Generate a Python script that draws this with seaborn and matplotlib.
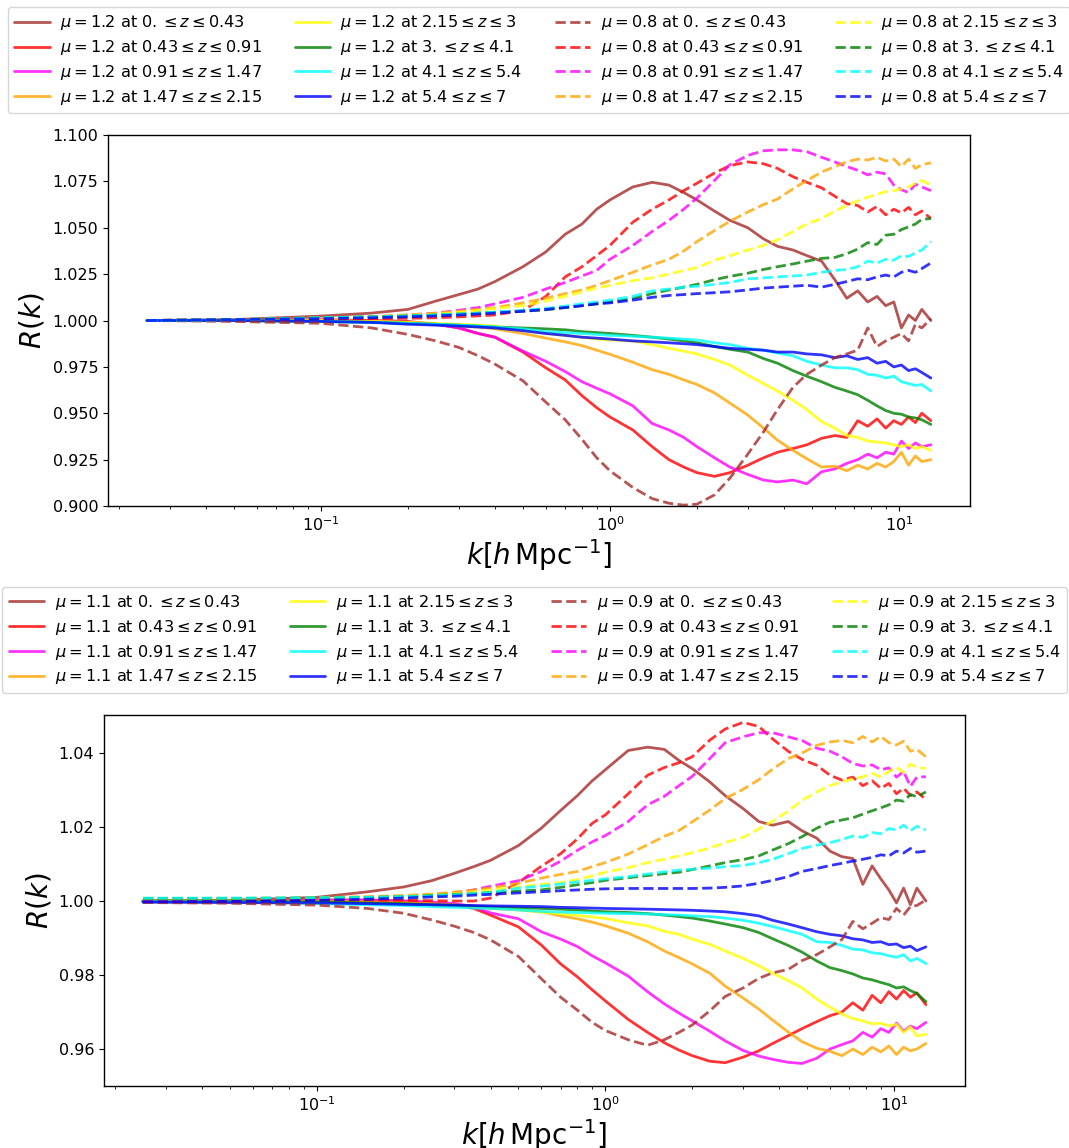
import matplotlib
matplotlib.use("Agg")
import matplotlib.pyplot as plt
import seaborn as sns
import pandas as pd

sns.set_style("ticks")
plt.rcParams.update({
    "font.family": ["DejaVu Sans"],
    "mathtext.fontset": "dejavusans",
    "axes.edgecolor": "black",
    "axes.linewidth": 1.0,
    "xtick.color": "black", "ytick.color": "black",
    "text.color": "black", "axes.labelcolor": "black",
    "xtick.major.size": 3.5, "ytick.major.size": 3.5,
    "xtick.minor.size": 2.0, "ytick.minor.size": 2.0,
    "xtick.major.width": 0.8, "ytick.major.width": 0.8,
    "xtick.minor.width": 0.6, "ytick.minor.width": 0.6,
    "xtick.direction": "out", "ytick.direction": "out",
})

# ---------------- data ----------------
K = [0.025, 0.05, 0.1, 0.15, 0.2, 0.25, 0.3, 0.35, 0.4, 0.5, 0.6, 0.7, 0.8, 0.9, 1.0,
     1.2, 1.4, 1.6, 1.8, 2.0, 2.3, 2.6, 3.0, 3.4, 3.8, 4.3, 4.8, 5.4, 6.0, 6.6,
     7.2, 7.8, 8.4, 9.0, 9.6, 10.2, 10.8, 11.4, 12.0, 12.9]

Z_BINS = [r"0. \leq z \leq 0.43", r"0.43 \leq z \leq 0.91", r"0.91 \leq z \leq 1.47",
          r"1.47 \leq z \leq 2.15", r"2.15 \leq z \leq 3", r"3. \leq z \leq 4.1",
          r"4.1 \leq z \leq 5.4", r"5.4 \leq z \leq 7"]
COLORS = ["brown", "red", "magenta", "orange", "yellow", "green", "cyan", "blue"]
MU_TOP = ["1.2", "0.8"]
MU_BOT = ["1.1", "0.9"]

# top panel, mu = 1.2 (solid)
mu12_b1 = [1.000, 1.0005, 1.0024, 1.004, 1.006, 1.0105, 1.014, 1.017, 1.021, 1.029, 1.037, 1.0465, 1.052, 1.060, 1.065, 1.072, 1.0745, 1.073, 1.069, 1.065, 1.059, 1.054, 1.050, 1.044, 1.040, 1.038, 1.035, 1.032, 1.022, 1.012, 1.016, 1.010, 1.013, 1.008, 1.010, 0.996, 1.003, 1.000, 1.006, 1.000]
mu12_b2 = [1.000, 1.000, 1.0005, 1.000, 0.9995, 0.998, 0.996, 0.993, 0.991, 0.983, 0.9745, 0.968, 0.9595, 0.953, 0.948, 0.941, 0.932, 0.925, 0.921, 0.918, 0.916, 0.918, 0.922, 0.926, 0.929, 0.931, 0.933, 0.9365, 0.938, 0.937, 0.946, 0.943, 0.947, 0.942, 0.946, 0.944, 0.948, 0.945, 0.950, 0.946]
mu12_b3 = [1.000, 1.000, 1.000, 0.9995, 0.999, 0.998, 0.996, 0.993, 0.991, 0.9835, 0.978, 0.9725, 0.967, 0.9635, 0.9605, 0.954, 0.9445, 0.941, 0.937, 0.932, 0.926, 0.921, 0.917, 0.914, 0.913, 0.914, 0.912, 0.9185, 0.920, 0.923, 0.925, 0.928, 0.926, 0.929, 0.928, 0.935, 0.931, 0.934, 0.932, 0.933]
mu12_b4 = [1.000, 1.000, 1.000, 0.9995, 0.999, 0.998, 0.997, 0.9965, 0.9955, 0.993, 0.9905, 0.9885, 0.9865, 0.984, 0.9818, 0.9775, 0.9735, 0.971, 0.968, 0.9655, 0.961, 0.9555, 0.949, 0.942, 0.9355, 0.930, 0.9255, 0.921, 0.9215, 0.919, 0.922, 0.920, 0.923, 0.921, 0.924, 0.929, 0.922, 0.927, 0.924, 0.925]
mu12_b5 = [1.000, 1.000, 1.000, 0.9995, 0.999, 0.9985, 0.998, 0.9975, 0.997, 0.995, 0.993, 0.992, 0.991, 0.990, 0.9895, 0.989, 0.987, 0.985, 0.9835, 0.982, 0.979, 0.976, 0.9705, 0.966, 0.962, 0.957, 0.952, 0.9455, 0.942, 0.938, 0.937, 0.935, 0.9345, 0.934, 0.933, 0.932, 0.933, 0.931, 0.932, 0.930]
mu12_b6 = [1.000, 1.000, 0.9995, 0.999, 0.9985, 0.998, 0.9975, 0.997, 0.9965, 0.996, 0.9955, 0.995, 0.994, 0.9935, 0.993, 0.992, 0.991, 0.990, 0.989, 0.988, 0.986, 0.9845, 0.983, 0.9795, 0.977, 0.973, 0.970, 0.967, 0.964, 0.962, 0.960, 0.957, 0.954, 0.9515, 0.950, 0.9495, 0.948, 0.9475, 0.9465, 0.944]
mu12_b7 = [1.000, 1.000, 0.9995, 0.999, 0.9985, 0.998, 0.9975, 0.997, 0.9965, 0.9955, 0.994, 0.9935, 0.993, 0.9925, 0.992, 0.9915, 0.991, 0.9905, 0.990, 0.9895, 0.988, 0.987, 0.985, 0.984, 0.9825, 0.981, 0.978, 0.976, 0.9745, 0.9745, 0.9735, 0.971, 0.9705, 0.969, 0.970, 0.967, 0.966, 0.965, 0.9655, 0.962]
mu12_b8 = [1.000, 1.000, 0.9995, 0.999, 0.998, 0.9975, 0.997, 0.9965, 0.996, 0.9945, 0.993, 0.992, 0.991, 0.9905, 0.990, 0.989, 0.9885, 0.988, 0.9875, 0.987, 0.986, 0.985, 0.9845, 0.984, 0.983, 0.983, 0.982, 0.9815, 0.980, 0.981, 0.979, 0.980, 0.977, 0.978, 0.975, 0.976, 0.973, 0.974, 0.972, 0.969]

# top panel, mu = 0.8 (dashed)
mu08_b1 = [1.000, 0.9995, 0.9985, 0.996, 0.9925, 0.989, 0.9855, 0.981, 0.9765, 0.9675, 0.956, 0.9465, 0.936, 0.926, 0.919, 0.910, 0.904, 0.9015, 0.9005, 0.901, 0.906, 0.915, 0.928, 0.940, 0.952, 0.964, 0.971, 0.976, 0.980, 0.982, 0.984, 0.996, 0.986, 0.989, 0.991, 0.993, 0.989, 0.998, 0.996, 1.001]
mu08_b2 = [1.000, 1.0005, 1.001, 1.001, 1.0012, 1.0015, 1.002, 1.0025, 1.003, 1.0055, 1.013, 1.0235, 1.029, 1.035, 1.0405, 1.053, 1.060, 1.065, 1.070, 1.074, 1.0795, 1.0835, 1.0855, 1.0845, 1.082, 1.0775, 1.0745, 1.0715, 1.067, 1.063, 1.062, 1.0585, 1.0615, 1.057, 1.060, 1.058, 1.061, 1.057, 1.059, 1.055]
mu08_b3 = [1.000, 1.0005, 1.0015, 1.002, 1.003, 1.004, 1.0055, 1.007, 1.009, 1.0125, 1.017, 1.0205, 1.024, 1.027, 1.033, 1.0405, 1.048, 1.054, 1.060, 1.066, 1.0755, 1.084, 1.089, 1.0915, 1.092, 1.092, 1.091, 1.088, 1.0855, 1.083, 1.081, 1.0785, 1.080, 1.079, 1.073, 1.0705, 1.069, 1.0735, 1.072, 1.070]
mu08_b4 = [1.000, 1.0005, 1.0015, 1.002, 1.003, 1.004, 1.005, 1.006, 1.007, 1.0095, 1.012, 1.0145, 1.0165, 1.019, 1.0215, 1.026, 1.030, 1.033, 1.0375, 1.0425, 1.0485, 1.0535, 1.0585, 1.0625, 1.0655, 1.071, 1.0755, 1.080, 1.083, 1.0855, 1.087, 1.0865, 1.088, 1.086, 1.087, 1.083, 1.087, 1.082, 1.084, 1.085]
mu08_b5 = [1.000, 1.0005, 1.0015, 1.002, 1.0028, 1.0035, 1.0045, 1.0055, 1.0065, 1.008, 1.0105, 1.013, 1.0155, 1.0175, 1.019, 1.0215, 1.023, 1.025, 1.027, 1.0285, 1.0325, 1.035, 1.038, 1.0405, 1.0435, 1.048, 1.052, 1.055, 1.059, 1.062, 1.0645, 1.0665, 1.068, 1.0695, 1.070, 1.071, 1.072, 1.074, 1.0755, 1.073]
mu08_b6 = [1.000, 1.0005, 1.0015, 1.002, 1.0025, 1.003, 1.0035, 1.004, 1.0045, 1.005, 1.0058, 1.007, 1.008, 1.009, 1.010, 1.012, 1.0145, 1.0165, 1.018, 1.0195, 1.022, 1.0238, 1.0255, 1.0275, 1.029, 1.0305, 1.032, 1.0335, 1.034, 1.036, 1.0385, 1.042, 1.041, 1.046, 1.0465, 1.049, 1.0505, 1.052, 1.0545, 1.055]
mu08_b7 = [1.000, 1.0005, 1.0015, 1.002, 1.0025, 1.003, 1.0035, 1.004, 1.0045, 1.0055, 1.0065, 1.0078, 1.009, 1.010, 1.011, 1.013, 1.016, 1.017, 1.018, 1.0185, 1.0195, 1.0205, 1.0225, 1.023, 1.0235, 1.024, 1.0245, 1.026, 1.027, 1.0275, 1.029, 1.032, 1.031, 1.033, 1.0325, 1.035, 1.0345, 1.0365, 1.038, 1.0425]
mu08_b8 = [1.000, 1.0005, 1.001, 1.0015, 1.002, 1.0025, 1.003, 1.0035, 1.004, 1.005, 1.006, 1.007, 1.008, 1.009, 1.0095, 1.011, 1.0125, 1.0135, 1.014, 1.0145, 1.015, 1.0155, 1.0165, 1.0175, 1.018, 1.0185, 1.019, 1.018, 1.0195, 1.021, 1.0225, 1.022, 1.0235, 1.0245, 1.0235, 1.026, 1.027, 1.026, 1.028, 1.031]

# bottom panel, mu = 1.1 (solid)
mu11_b1 = [1.000, 1.0002, 1.001, 1.0025, 1.0038, 1.0055, 1.0075, 1.0093, 1.011, 1.015, 1.0197, 1.0245, 1.0285, 1.0325, 1.0355, 1.0407, 1.0416, 1.041, 1.038, 1.0358, 1.0322, 1.0285, 1.025, 1.0215, 1.0205, 1.0215, 1.019, 1.017, 1.0135, 1.012, 1.0115, 1.0045, 1.0095, 1.006, 1.003, 0.9995, 1.0035, 0.999, 1.0035, 1.000]
mu11_b2 = [1.000, 1.000, 1.0003, 1.0003, 1.000, 0.9995, 0.999, 0.998, 0.9962, 0.993, 0.9881, 0.983, 0.9795, 0.976, 0.973, 0.968, 0.9645, 0.9617, 0.9597, 0.9582, 0.9567, 0.9563, 0.9578, 0.9595, 0.9615, 0.9636, 0.9655, 0.9674, 0.969, 0.970, 0.9725, 0.9705, 0.9745, 0.9725, 0.9755, 0.9735, 0.9758, 0.974, 0.9752, 0.972]
mu11_b3 = [1.000, 1.000, 1.0002, 1.0002, 1.000, 0.9997, 0.9993, 0.9985, 0.9968, 0.9952, 0.9917, 0.9897, 0.9877, 0.9852, 0.9833, 0.9797, 0.9755, 0.9722, 0.9697, 0.9676, 0.9648, 0.9622, 0.9596, 0.9581, 0.9572, 0.9564, 0.9561, 0.9575, 0.960, 0.9612, 0.9622, 0.9645, 0.9632, 0.9655, 0.9645, 0.967, 0.9648, 0.9662, 0.9655, 0.9672]
mu11_b4 = [1.000, 1.000, 1.000, 0.9998, 0.9996, 0.9993, 0.999, 0.9985, 0.998, 0.9976, 0.9971, 0.996, 0.9952, 0.9943, 0.9933, 0.9913, 0.989, 0.9865, 0.9847, 0.983, 0.9805, 0.977, 0.9738, 0.9708, 0.9678, 0.9646, 0.962, 0.9602, 0.9594, 0.9582, 0.960, 0.9585, 0.9605, 0.9592, 0.9608, 0.9585, 0.9605, 0.9595, 0.960, 0.9615]
mu11_b5 = [1.000, 1.000, 0.9998, 0.9995, 0.9992, 0.999, 0.9988, 0.9985, 0.9982, 0.9977, 0.997, 0.9966, 0.9961, 0.9957, 0.9953, 0.9941, 0.9933, 0.9918, 0.991, 0.9897, 0.9883, 0.9865, 0.9845, 0.9825, 0.9805, 0.9785, 0.9765, 0.9735, 0.9713, 0.9695, 0.9682, 0.9676, 0.9668, 0.967, 0.9662, 0.9667, 0.9645, 0.966, 0.9635, 0.964]
mu11_b6 = [1.000, 1.000, 0.9998, 0.9995, 0.9993, 0.999, 0.9988, 0.9986, 0.9984, 0.9982, 0.998, 0.9978, 0.9976, 0.9973, 0.9971, 0.9969, 0.9966, 0.9962, 0.9958, 0.9954, 0.9946, 0.9938, 0.9928, 0.9915, 0.9898, 0.988, 0.9862, 0.9838, 0.982, 0.9812, 0.9803, 0.9792, 0.9787, 0.978, 0.9774, 0.9765, 0.9768, 0.9758, 0.975, 0.9728]
mu11_b7 = [0.9998, 0.9997, 0.9993, 0.999, 0.9988, 0.9985, 0.9983, 0.9981, 0.998, 0.9976, 0.9972, 0.997, 0.9969, 0.9968, 0.9967, 0.9966, 0.9965, 0.9963, 0.9962, 0.996, 0.9958, 0.9954, 0.9948, 0.994, 0.9931, 0.992, 0.991, 0.989, 0.9888, 0.988, 0.987, 0.9868, 0.986, 0.9858, 0.9852, 0.9848, 0.9855, 0.9838, 0.9845, 0.9831]
mu11_b8 = [0.9997, 0.9996, 0.9995, 0.9993, 0.9991, 0.999, 0.9989, 0.9988, 0.9987, 0.9986, 0.9985, 0.9983, 0.9982, 0.9981, 0.998, 0.9979, 0.9978, 0.9977, 0.9976, 0.9975, 0.9973, 0.9971, 0.9966, 0.996, 0.9948, 0.9938, 0.9928, 0.9917, 0.991, 0.9906, 0.9898, 0.9895, 0.9888, 0.989, 0.9882, 0.9884, 0.9874, 0.9878, 0.9866, 0.9876]

# bottom panel, mu = 0.9 (dashed)
mu09_b1 = [0.9996, 0.9994, 0.9989, 0.998, 0.9967, 0.9949, 0.9932, 0.9915, 0.9895, 0.985, 0.979, 0.974, 0.9705, 0.9672, 0.965, 0.9625, 0.961, 0.9625, 0.9645, 0.9665, 0.9703, 0.9742, 0.9765, 0.9791, 0.9806, 0.9815, 0.9839, 0.9855, 0.9876, 0.9896, 0.9945, 0.9925, 0.994, 0.9955, 0.995, 0.998, 0.9962, 0.9985, 0.9988, 1.0003]
mu09_b2 = [1.0002, 1.0002, 1.0004, 1.0003, 1.0002, 1.0001, 1.000, 1.000, 1.0008, 1.005, 1.0094, 1.0128, 1.0168, 1.021, 1.0233, 1.029, 1.034, 1.0361, 1.0374, 1.039, 1.0435, 1.0465, 1.0483, 1.0472, 1.0438, 1.0405, 1.0383, 1.0367, 1.034, 1.0327, 1.0335, 1.0312, 1.0325, 1.0305, 1.0318, 1.029, 1.0305, 1.0285, 1.0295, 1.0275]
mu09_b3 = [1.0005, 1.0005, 1.0007, 1.001, 1.0013, 1.0017, 1.0022, 1.003, 1.004, 1.0055, 1.008, 1.0108, 1.0137, 1.016, 1.0177, 1.0215, 1.026, 1.0283, 1.0312, 1.0337, 1.0385, 1.0428, 1.0444, 1.0455, 1.0455, 1.0444, 1.0434, 1.0413, 1.0405, 1.039, 1.0372, 1.0365, 1.0368, 1.0355, 1.036, 1.0335, 1.035, 1.031, 1.0335, 1.0336]
mu09_b4 = [1.0007, 1.0007, 1.0009, 1.0012, 1.0015, 1.0019, 1.0024, 1.003, 1.0035, 1.0048, 1.0062, 1.0072, 1.008, 1.0093, 1.0104, 1.0127, 1.0152, 1.0175, 1.0191, 1.0214, 1.0246, 1.0277, 1.0302, 1.0328, 1.0357, 1.0385, 1.040, 1.0421, 1.043, 1.0434, 1.0428, 1.0445, 1.043, 1.0445, 1.0428, 1.0422, 1.0432, 1.0405, 1.041, 1.039]
mu09_b5 = [1.0006, 1.0006, 1.0008, 1.001, 1.0013, 1.0017, 1.002, 1.0025, 1.003, 1.0038, 1.0045, 1.005, 1.0058, 1.0068, 1.0078, 1.009, 1.0104, 1.0113, 1.0122, 1.0131, 1.0143, 1.0158, 1.0172, 1.0195, 1.0216, 1.0243, 1.0272, 1.0295, 1.0312, 1.0322, 1.033, 1.0336, 1.0345, 1.0335, 1.035, 1.0362, 1.0348, 1.037, 1.0362, 1.0358]
mu09_b6 = [1.0007, 1.0007, 1.0008, 1.001, 1.0012, 1.0015, 1.0018, 1.002, 1.0023, 1.0027, 1.003, 1.0037, 1.0044, 1.005, 1.0056, 1.0063, 1.0069, 1.0074, 1.0078, 1.0085, 1.0095, 1.0104, 1.0112, 1.0122, 1.0138, 1.0155, 1.0174, 1.0197, 1.0213, 1.0219, 1.0225, 1.0235, 1.0244, 1.0252, 1.026, 1.0273, 1.027, 1.0288, 1.0282, 1.0295]
mu09_b7 = [1.0008, 1.0008, 1.0009, 1.001, 1.0012, 1.0014, 1.0017, 1.002, 1.0023, 1.0035, 1.004, 1.0046, 1.0052, 1.0056, 1.006, 1.0066, 1.0073, 1.0079, 1.0084, 1.0086, 1.0089, 1.0093, 1.0096, 1.0104, 1.0113, 1.0128, 1.0142, 1.0151, 1.0158, 1.0166, 1.0176, 1.0172, 1.0185, 1.0182, 1.0196, 1.0192, 1.0205, 1.019, 1.0202, 1.0192]
mu09_b8 = [0.9998, 0.9999, 1.0002, 1.0005, 1.0008, 1.0011, 1.0013, 1.0016, 1.0018, 1.0022, 1.0025, 1.0028, 1.003, 1.0032, 1.0033, 1.0034, 1.0034, 1.0034, 1.0034, 1.0034, 1.0035, 1.0037, 1.0041, 1.0048, 1.0056, 1.0066, 1.008, 1.0088, 1.0096, 1.0102, 1.0108, 1.0113, 1.0118, 1.0125, 1.0122, 1.0135, 1.013, 1.0142, 1.0132, 1.0135]

TOP_SOLID = [mu12_b1, mu12_b2, mu12_b3, mu12_b4, mu12_b5, mu12_b6, mu12_b7, mu12_b8]
TOP_DASH = [mu08_b1, mu08_b2, mu08_b3, mu08_b4, mu08_b5, mu08_b6, mu08_b7, mu08_b8]
BOT_SOLID = [mu11_b1, mu11_b2, mu11_b3, mu11_b4, mu11_b5, mu11_b6, mu11_b7, mu11_b8]
BOT_DASH = [mu09_b1, mu09_b2, mu09_b3, mu09_b4, mu09_b5, mu09_b6, mu09_b7, mu09_b8]

for grp in (TOP_SOLID, TOP_DASH, BOT_SOLID, BOT_DASH):
    for s in grp:
        assert len(s) == len(K), len(s)


def draw_panel(ax, solid, dashed, mus):
    for ls, series, mu in (("-", solid, mus[0]), ("--", dashed, mus[1])):
        for i, vals in enumerate(series):
            df = pd.DataFrame({"k": K, "R": vals})
            sns.lineplot(data=df, x="k", y="R", ax=ax, color=COLORS[i], alpha=0.8,
                         linewidth=2.0, linestyle=ls,
                         label=rf"$\mu = {mu}$ at ${Z_BINS[i]}$")
    ax.set_xscale("log")
    ax.set_xlim(0.01832, 17.62)
    ax.set_xlabel(r"$k[h\,\mathrm{Mpc}^{-1}]$", fontsize=20, labelpad=2)
    ax.set_ylabel(r"$R(k)$", fontsize=20)
    ax.tick_params(axis="both", which="major", labelsize=11.5)
    for sp in ax.spines.values():
        sp.set_visible(True)


fig = plt.figure(figsize=(10.69, 11.48), dpi=100)
ax1 = fig.add_axes([0.1010, 0.5592, 0.8064, 0.3232])
ax2 = fig.add_axes([0.0973, 0.0540, 0.8054, 0.3232])

draw_panel(ax1, TOP_SOLID, TOP_DASH, MU_TOP)
ax1.set_ylim(0.9, 1.1)
ax1.set_yticks([0.900, 0.925, 0.950, 0.975, 1.000, 1.025, 1.050, 1.075, 1.100])
ax1.set_yticklabels(["0.900", "0.925", "0.950", "0.975", "1.000", "1.025", "1.050", "1.075", "1.100"])

draw_panel(ax2, BOT_SOLID, BOT_DASH, MU_BOT)
ax2.set_ylim(0.95, 1.0503)
ax2.set_yticks([0.96, 0.98, 1.00, 1.02, 1.04])
ax2.set_yticklabels(["0.96", "0.98", "1.00", "1.02", "1.04"])

leg_kw = dict(ncol=4, loc="lower center", fontsize=11.6, labelspacing=0.36,
              handlelength=2.2, handletextpad=0.65, columnspacing=2.0)
ax1.legend(bbox_to_anchor=(0.5, 1.037), **leg_kw)
ax2.legend(bbox_to_anchor=(0.5, 1.038), **leg_kw)

fig.savefig("out.png", dpi=100)
